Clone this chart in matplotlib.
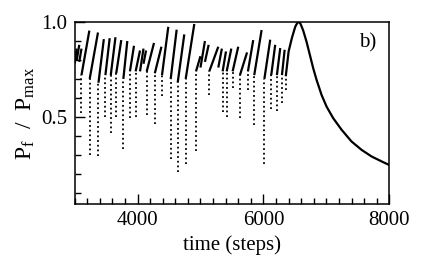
import matplotlib
matplotlib.use("Agg")
import matplotlib.pyplot as plt
from matplotlib.ticker import MultipleLocator

plt.rcParams['font.family'] = ['Liberation Serif', 'DejaVu Serif']
plt.rcParams['mathtext.fontset'] = 'custom'
plt.rcParams['mathtext.rm'] = 'Liberation Serif'
plt.rcParams['mathtext.it'] = 'Liberation Serif:italic'

# Sawtooth cycles: start time, trough, knee value (end of fast rise), end time, peak
tooth_t0 = [3000, 3035, 3075, 3110, 3240, 3380, 3490, 3575, 3662, 3775, 3880, 3970,
            4040, 4095, 4146, 4275, 4389, 4527, 4638, 4765, 4929, 5000, 5071, 5140,
            5283, 5352, 5416, 5511, 5627, 5754, 5854, 6015, 6124, 6214, 6294]
tooth_min = [0.78, 0.80, 0.79, 0.52, 0.30, 0.295, 0.50, 0.415, 0.50, 0.33, 0.495, 0.50,
             0.74, 0.78, 0.51, 0.46, 0.61, 0.275, 0.21, 0.25, 0.32, 0.76, 0.79, 0.615,
             0.76, 0.528, 0.50, 0.65, 0.493, 0.64, 0.458, 0.249, 0.54, 0.53, 0.574]
tooth_knee = [0.78, 0.80, 0.79, 0.72, 0.70, 0.68, 0.72, 0.72, 0.73, 0.70, 0.74, 0.74,
              0.74, 0.78, 0.74, 0.73, 0.72, 0.70, 0.68, 0.70, 0.74, 0.76, 0.79, 0.74,
              0.76, 0.74, 0.74, 0.74, 0.72, 0.74, 0.72, 0.70, 0.72, 0.72, 0.72]
tooth_t1 = [3035, 3075, 3110, 3235, 3372, 3465, 3558, 3650, 3742, 3838, 3944, 4040,
            4095, 4135, 4262, 4380, 4489, 4622, 4743, 4902, 5000, 5071, 5130, 5283,
            5340, 5405, 5490, 5600, 5740, 5838, 5971, 6108, 6187, 6267, 6337]
tooth_peak = [0.86, 0.88, 0.86, 0.955, 0.945, 0.91, 0.915, 0.92, 0.905, 0.90, 0.875, 0.85,
              0.86, 0.85, 0.89, 0.87, 0.975, 0.96, 0.935, 0.99, 0.82, 0.90, 0.88, 0.87,
              0.86, 0.845, 0.86, 0.87, 0.84, 0.905, 0.958, 0.907, 0.88, 0.863, 0.854]

# Final growth and relaxation
final_t0 = 6357
final_min = 0.644
final_t = [6357, 6400, 6452, 6505, 6525, 6545, 6565, 6585, 6605, 6632, 6685, 6738,
           6791, 6844, 6923, 7003, 7108, 7241, 7399, 7558, 7717, 7876, 7965, 8000]
final_v = [0.72, 0.845, 0.916, 0.975, 0.988, 0.998, 1.0, 0.993, 0.978, 0.955, 0.896,
           0.826, 0.756, 0.695, 0.616, 0.554, 0.493, 0.432, 0.370, 0.326, 0.291,
           0.265, 0.251, 0.246]

fig = plt.figure(figsize=(4.36, 2.66), dpi=100)
ax = fig.add_axes([0.171, 0.233, 0.722, 0.684])

dot_style = dict(color='black', lw=1.3, ls=(0, (1, 1.6)))
solid_style = dict(color='black', lw=1.6, solid_capstyle='butt')

for t0, mn, kn, t1, pk in zip(tooth_t0, tooth_min, tooth_knee, tooth_t1, tooth_peak):
    if kn > mn:
        ax.plot([t0, t0], [mn, kn], **dot_style)
    ax.plot([t0, t1], [kn, pk], **solid_style)

ax.plot([final_t0, final_t0], [final_min, final_v[0]], **dot_style)
ax.plot(final_t, final_v, color='black', lw=1.6, solid_joinstyle='round')

ax.set_xlim(3000, 8000)
ax.set_ylim(0.04, 1.0)
ax.xaxis.set_major_locator(MultipleLocator(2000))
ax.xaxis.set_minor_locator(MultipleLocator(200))
ax.yaxis.set_major_locator(MultipleLocator(0.5))
ax.yaxis.set_minor_locator(MultipleLocator(0.1))
ax.tick_params(which='both', direction='in', top=False, right=False, labelsize=15, pad=5)
ax.tick_params(which='major', length=7, width=1.0)
ax.tick_params(which='minor', length=4, width=1.0)
for s in ax.spines.values():
    s.set_linewidth(1.1)

ax.set_xlabel('time (steps)', fontsize=15, labelpad=4)
ax.set_ylabel(r'P$_\mathrm{f}$  /  P$_\mathrm{max}$', fontsize=17, labelpad=3)
ax.text(0.93, 0.885, 'b)', transform=ax.transAxes, fontsize=15, ha='center', va='center')

fig.savefig('out.png', dpi=100)
